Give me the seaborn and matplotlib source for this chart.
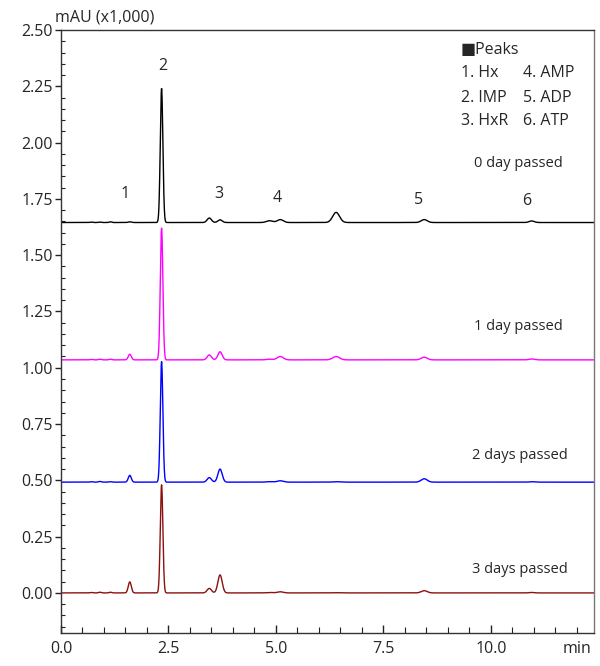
import numpy as np
import pandas as pd
import matplotlib
matplotlib.use("Agg")
import matplotlib.pyplot as plt
from matplotlib.ticker import MultipleLocator, FormatStrFormatter
import seaborn as sns

sns.set_theme(style="white")
plt.rcParams['font.family'] = ['Open Sans', 'DejaVu Sans']

# ---- data ----
series_names = ["0 day passed", "1 day passed", "2 days passed", "3 days passed"]
series_colors = ["#000000", "#ff00ff", "#0000ff", "#8b1010"]
baselines = [1.645, 1.035, 0.492, 0.0]

# retention times (min) of visible peaks
rt = [0.70, 0.90, 1.15, 1.60, 2.34, 3.45, 3.70, 4.85, 5.10, 6.40, 8.45, 10.95]
widths = [0.03, 0.03, 0.03, 0.035, 0.03, 0.05, 0.05, 0.07, 0.07, 0.08, 0.07, 0.06]
# peak heights (mAU x1,000) per trace, same order as rt
h_day0 = [0.002, 0.002, 0.003, 0.003, 0.595, 0.020, 0.012, 0.008, 0.013, 0.045, 0.013, 0.007]
h_day1 = [0.002, 0.003, 0.003, 0.025, 0.585, 0.022, 0.036, 0.003, 0.015, 0.015, 0.012, 0.004]
h_day2 = [0.002, 0.003, 0.002, 0.030, 0.535, 0.020, 0.058, 0.002, 0.006, 0.002, 0.015, 0.002]
h_day3 = [0.002, 0.003, 0.003, 0.049, 0.480, 0.020, 0.080, 0.002, 0.005, 0.001, 0.010, 0.002]
heights = [h_day0, h_day1, h_day2, h_day3]

peak_labels = ["1", "2", "3", "4", "5", "6"]
peak_label_x = [1.49, 2.37, 3.67, 5.02, 8.33, 10.84]
peak_label_y = [1.77, 2.34, 1.77, 1.755, 1.745, 1.74]

tick_values = [0.0, 2.5, 5.0, 7.5, 10.0]

# ---- build traces from the peak table ----
t = np.arange(0.0, 12.41, 0.004)
frames = []
for name, base, hs in zip(series_names, baselines, heights):
    y = np.full_like(t, base)
    for r, w, h in zip(rt, widths, hs):
        y += h * np.exp(-0.5 * ((t - r) / w) ** 2)
    frames.append(pd.DataFrame({"time": t, "signal": y, "trace": name}))
df = pd.concat(frames, ignore_index=True)

fig = plt.figure(figsize=(6.0, 6.66), dpi=100)
ax = fig.add_axes([61/600, 1-633/666, 533/600, 603/666])

sns.lineplot(data=df, x="time", y="signal", hue="trace", palette=series_colors,
             hue_order=series_names, linewidth=1.0, legend=False, ax=ax, sort=False,
             estimator=None)

ax.set_xlim(0, 12.4)
ax.set_ylim(-0.178, 2.5)
ax.set_xlabel("")
ax.set_ylabel("")

ax.set_xticks(tick_values)
ax.xaxis.set_major_formatter(FormatStrFormatter("%.1f"))
ax.xaxis.set_minor_locator(MultipleLocator(0.5))
ax.yaxis.set_major_locator(MultipleLocator(0.25))
ax.yaxis.set_major_formatter(FormatStrFormatter("%.2f"))
ax.yaxis.set_minor_locator(MultipleLocator(0.05))

ax.tick_params(axis="x", which="major", direction="in", length=6, width=1, color="#222222",
               labelsize=11.5, pad=6, bottom=True)
ax.tick_params(axis="x", which="minor", direction="in", length=4, width=0.8, color="#222222", bottom=True)
ax.tick_params(axis="y", which="major", direction="out", length=4, width=1, color="#222222",
               labelsize=11.5, pad=2, left=True)
ax.tick_params(axis="y", which="minor", direction="in", length=3, width=0.8, color="#222222", left=True)

for side in ["left", "bottom", "top"]:
    ax.spines[side].set_color("#333333")
    ax.spines[side].set_linewidth(1.0)
ax.spines["right"].set_color("#777777")
ax.spines["right"].set_linewidth(1.0)

# annotations
fs = 11.5
ax.text(-0.012, 1.008, "mAU (x1,000)", transform=ax.transAxes, fontsize=fs, ha="left", va="bottom")
ax.text(0.968, -0.013, "min", transform=ax.transAxes, fontsize=fs, ha="center", va="top")
for lab, px, py in zip(peak_labels, peak_label_x, peak_label_y):
    ax.text(px, py, lab, fontsize=fs, ha="center", va="center")

ax.text(9.30, 2.413, "\u25a0Peaks", fontsize=fs, ha="left", va="center")
ax.text(9.30, 2.307, "1. Hx", fontsize=fs, ha="left", va="center")
ax.text(9.30, 2.200, "2. IMP", fontsize=fs, ha="left", va="center")
ax.text(9.30, 2.098, "3. HxR", fontsize=fs, ha="left", va="center")
ax.text(10.74, 2.307, "4. AMP", fontsize=fs, ha="left", va="center")
ax.text(10.74, 2.200, "5. ADP", fontsize=fs, ha="left", va="center")
ax.text(10.74, 2.098, "6. ATP", fontsize=fs, ha="left", va="center")

series_label_x = [10.63, 10.63, 10.68, 10.68]
series_label_y = [1.907, 1.182, 0.609, 0.102]
for name, lx, ly in zip(series_names, series_label_x, series_label_y):
    ax.text(lx, ly, name, fontsize=10.5, ha="center", va="center")

fig.savefig("out.png", dpi=100)
